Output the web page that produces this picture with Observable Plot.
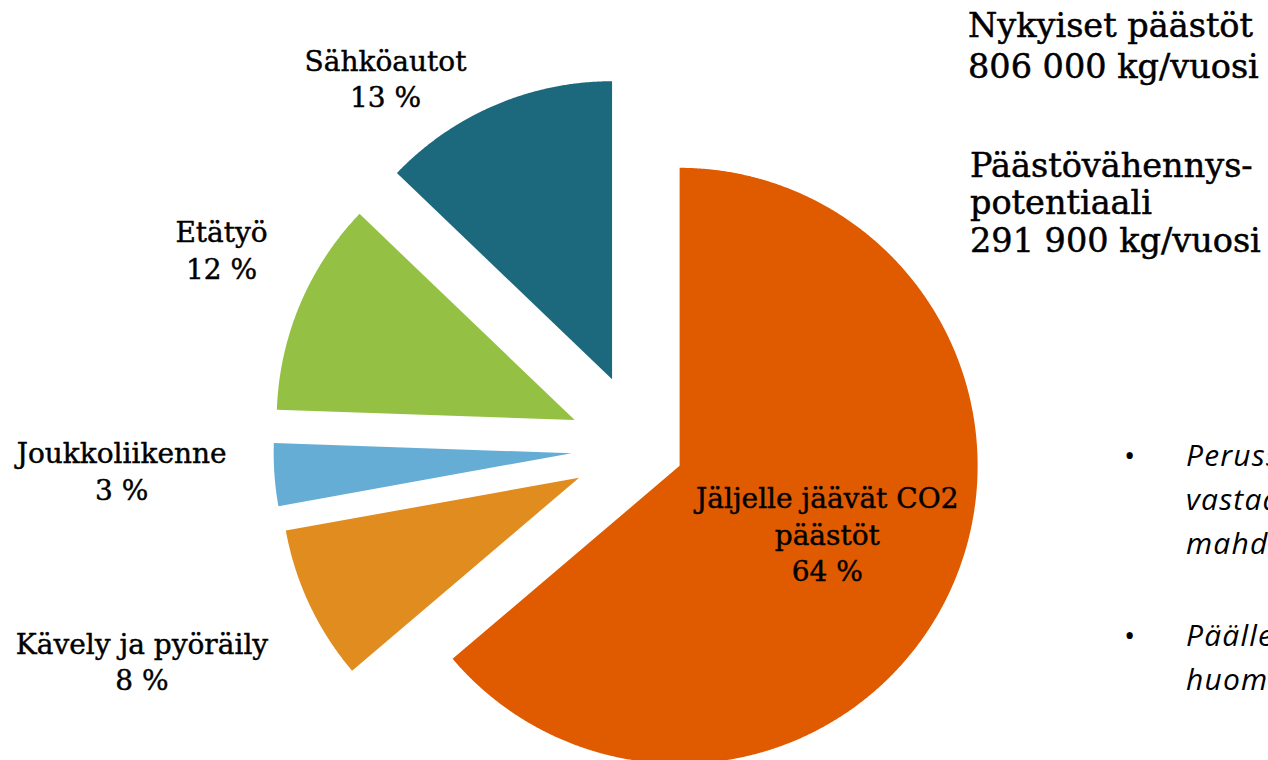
<!DOCTYPE html>
<html>
<head>
<meta charset="utf-8">
<script src="https://cdn.jsdelivr.net/npm/d3@7"></script>
<script src="https://cdn.jsdelivr.net/npm/@observablehq/plot@0.6"></script>
<style>
  html, body { margin: 0; padding: 0; background: #ffffff; width: 1268px; height: 760px; overflow: hidden; }
  #wrap { position: relative; width: 1268px; height: 760px; overflow: hidden; }
  #chart { position: absolute; left: 0; top: 0; }
  .serif { position: absolute; white-space: nowrap; font-family: "DejaVu Serif", serif; color: #000; font-size: 33.5px; -webkit-text-stroke: 0.5px #000; }
  .note { position: absolute; white-space: nowrap; font-family: "Open Sans", sans-serif; font-style: italic; color: #000; font-size: 30px; letter-spacing: 1.2px; line-height: 44px; }
  .bullet { position: absolute; font-family: "Open Sans", sans-serif; color: #000; font-size: 30px; line-height: 44px; }
</style>
</head>
<body>
<div id="wrap">
  <div id="chart"></div>
  <div class="serif" style="left:968px; top:5px; line-height:41px;">Nykyiset päästöt<br>806 000 kg/vuosi</div>
  <div class="serif" style="left:970px; top:146.5px; line-height:37.5px;">Päästövähennys-<br>potentiaali<br>291 900 kg/vuosi</div>
  <div class="bullet" style="left:1124px; top:433px;">•</div>
  <div class="note" style="left:1186px; top:433px;">Perusskenaario<br>vastaa<br>mahdollisuuksia</div>
  <div class="bullet" style="left:1124px; top:613px;">•</div>
  <div class="note" style="left:1186px; top:613px;">Päällekkäisyyksiä<br>huomioitu</div>
</div>
<script>
// ---------- DATA ----------
const categories = ["Jäljelle jäävät CO2 päästöt", "Kävely ja pyöräily", "Joukkoliikenne", "Etätyö", "Sähköautot"];
const labelNames = ["Jäljelle jäävät CO2\npäästöt", "Kävely ja pyöräily", "Joukkoliikenne", "Etätyö", "Sähköautot"];
const emissionsKg = [514100, 67500, 27300, 93600, 103500];

// ---------- STYLE / LAYOUT ----------
const sliceColors = ["#E05A00", "#E08C1F", "#66ADD6", "#94C043", "#1C697D"];
const W = 1268, H = 760;
const radiusPx = 298;
const centerPx = [641, 447.7];
const explodePx = [42, 69, 70, 72.5, 75];
// label placement: distance (in radii) and angle (degrees clockwise from top) from pie centre
const labelPlace = [[0.685, 114.5], [1.821, 247.0], [1.746, 267.6], [1.560, 295.4], [1.513, 325.4]];

// ---------- BUILD ----------
const total = d3.sum(emissionsKg);
const arcs = d3.pie().sort(null).value(d => d)(emissionsKg);
const pts = [];
arcs.forEach((a, i) => {
  const mid = (a.startAngle + a.endAngle) / 2;
  const e = explodePx[i] / radiusPx;
  const ox = e * Math.sin(mid), oy = e * Math.cos(mid);
  const cat = categories[i];
  pts.push({cat, x: ox, y: oy});
  const n = Math.max(16, Math.ceil((a.endAngle - a.startAngle) / (Math.PI / 720)));
  for (let k = 0; k <= n; k++) {
    const t = a.startAngle + (a.endAngle - a.startAngle) * k / n;
    pts.push({cat, x: ox + Math.sin(t), y: oy + Math.cos(t)});
  }
  pts.push({cat, x: ox, y: oy});
});

const labels = categories.map((c, i) => {
  const [r, deg] = labelPlace[i];
  const t = deg * Math.PI / 180;
  return {
    cat: c,
    x: r * Math.sin(t),
    y: r * Math.cos(t),
    text: labelNames[i] + "\n" + Math.round(emissionsKg[i] / total * 100) + " %"
  };
});

const chart = Plot.plot({
  width: W,
  height: H,
  margin: 0,
  x: {domain: [-centerPx[0] / radiusPx, (W - centerPx[0]) / radiusPx], axis: null},
  y: {domain: [-(H - centerPx[1]) / radiusPx, centerPx[1] / radiusPx], axis: null},
  color: {domain: categories, range: sliceColors},
  style: {background: "#ffffff"},
  marks: [
    Plot.line(pts, {x: "x", y: "y", z: "cat", fill: "cat", stroke: "none", curve: "linear"}),
    Plot.text(labels, {
      x: "x", y: "y", text: "text",
      fontSize: 28, fontFamily: "DejaVu Serif", lineHeight: 1.3,
      textAnchor: "middle", fill: "#000000", stroke: "#000000", strokeWidth: 0.45
    })
  ]
});
document.getElementById("chart").appendChild(chart);
</script>
</body>
</html>
